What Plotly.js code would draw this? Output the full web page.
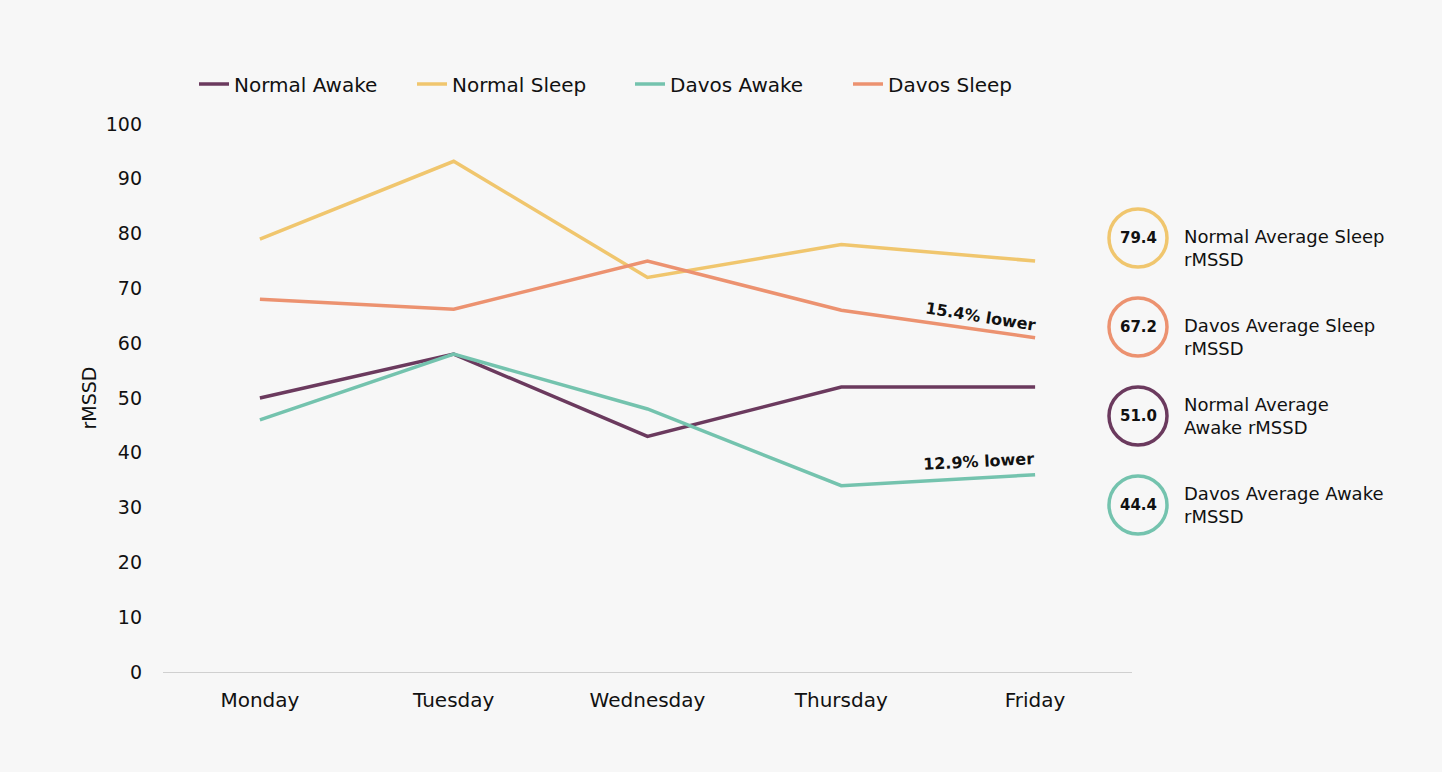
<!DOCTYPE html>
<html><head><meta charset="utf-8">
<script src="https://cdn.plot.ly/plotly-3.0.1.min.js"></script>
<style>html,body{margin:0;padding:0;background:#f7f7f7;}#chart{width:1442px;height:772px;}</style>
</head><body><div id="chart"></div>
<script>
const days = ["Monday","Tuesday","Wednesday","Thursday","Friday"];
const normalAwake = [50, 58, 43, 52, 52];
const normalSleep = [79, 93.2, 72, 78, 75];
const davosAwake = [46, 58, 48, 34, 36];
const davosSleep = [68, 66.2, 75, 66, 61];
const seriesNames = ["Normal Awake","Normal Sleep","Davos Awake","Davos Sleep"];
const colors = ["#6b3a5e","#f0c66e","#74c3ae","#ec9270"];
const avgValues = ["79.4","67.2","51.0","44.4"];
const avgLabels = ["Normal Average Sleep<br>rMSSD","Davos Average Sleep<br>rMSSD","Normal Average<br>Awake rMSSD","Davos Average Awake<br>rMSSD"];
const avgColors = ["#f0c66e","#ec9270","#6b3a5e","#74c3ae"];
const diffLabels = ["15.4% lower","12.9% lower"];

const FONT = "DejaVu Sans, Open Sans, sans-serif";
const allSeries = [normalAwake, normalSleep, davosAwake, davosSleep];
const traces = allSeries.map((s,i)=>({
  type:'scatter', mode:'lines', x:days, y:s, name:seriesNames[i],
  line:{color:colors[i], width:3.5}
}));

// pixel -> paper helpers for layout decoration
const L=163, R=1132, T=124, B=672;
const px=(x)=>(x-L)/(R-L), py=(y)=>(B-y)/(B-T);

const shapes=[], annotations=[];
const cy=[238,327,416,505];
const labelShift=[10,10,0,0];
avgValues.forEach((v,i)=>{
  shapes.push({type:'circle', xref:'paper', yref:'paper',
    x0:px(1109), x1:px(1167), y0:py(cy[i]+29), y1:py(cy[i]-29),
    line:{color:avgColors[i], width:3.5}, fillcolor:'rgba(0,0,0,0)'});
  annotations.push({xref:'paper', yref:'paper', x:px(1138), y:py(cy[i]), xanchor:'center', yanchor:'middle',
    text:'<b>'+v+'</b>', showarrow:false, font:{family:FONT, size:15, color:'#111'}});
  annotations.push({xref:'paper', yref:'paper', x:px(1182), y:py(cy[i]+labelShift[i]), xanchor:'left', yanchor:'middle', align:'left',
    text:avgLabels[i], showarrow:false, font:{family:FONT, size:18, color:'#111'}});
});
annotations.push({xref:'paper', yref:'paper', x:px(980), y:py(316), xanchor:'center', yanchor:'middle',
  text:'<b>'+diffLabels[0]+'</b>', textangle:9, showarrow:false, font:{family:FONT, size:16, color:'#111'}});
annotations.push({xref:'paper', yref:'paper', x:px(978), y:py(461), xanchor:'center', yanchor:'middle',
  text:'<b>'+diffLabels[1]+'</b>', textangle:-3, showarrow:false, font:{family:FONT, size:16, color:'#111'}});

const layout={
  width:1442, height:772,
  paper_bgcolor:'#f7f7f7', plot_bgcolor:'#f7f7f7',
  margin:{l:L, r:1442-R, t:T, b:772-B},
  font:{family:FONT, color:'#111'},
  showlegend:true,
  legend:{orientation:'h', x:px(194), y:py(84), xanchor:'left', yanchor:'middle',
    font:{family:FONT, size:20, color:'#111'}, itemwidth:30, entrywidth:173, entrywidthmode:'pixels'},
  xaxis:{type:'category', range:[-0.5,4.5], showgrid:false, zeroline:false,
    showline:true, linecolor:'#d0d0d0', linewidth:1, ticks:'',
    tickfont:{family:FONT, size:20, color:'#111'}, ticklabelstandoff:10},
  yaxis:{range:[0,100], dtick:10, showgrid:false, zeroline:false, showline:false, ticks:'',
    tickfont:{family:FONT, size:19, color:'#111'}, ticklabelstandoff:20,
    title:{text:'rMSSD', font:{family:FONT, size:19, color:'#111'}, standoff:4}},
  shapes:shapes, annotations:annotations
};
Plotly.newPlot('chart', traces, layout, {displayModeBar:false, staticPlot:true});
</script></body></html>
